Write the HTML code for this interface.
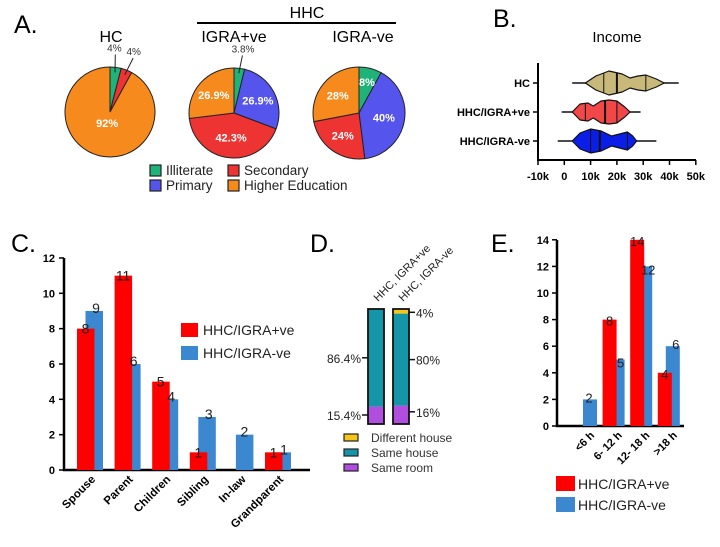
<!DOCTYPE html>
<html><head><meta charset="utf-8"><style>
html,body{margin:0;padding:0;background:#fff}
svg{display:block;font-family:"Liberation Sans",Arial,sans-serif}
</style></head><body>
<svg id="fig" width="720" height="547" viewBox="0 0 720 547">
<g id="pA">
<text x="14" y="33" font-size="25">A.</text>
<text x="307" y="18" font-size="16" text-anchor="middle">HHC</text>
<line x1="197" y1="23" x2="396" y2="23" stroke="#000" stroke-width="2"/>
<text x="111" y="42" font-size="16" text-anchor="middle">HC</text>
<text x="234" y="42" font-size="16" text-anchor="middle">IGRA+ve</text>
<text x="363" y="42" font-size="16" text-anchor="middle">IGRA-ve</text>
</g>
<g id="pB">
<text x="493" y="27" font-size="25">B.</text>
<text x="617" y="42" font-size="15" text-anchor="middle">Income</text>
</g>
<g id="pC">
<text x="11" y="252" font-size="25">C.</text>
</g>
<g id="pD">
<text x="310" y="252" font-size="25">D.</text>
</g>
<g id="pE">
<text x="491" y="252" font-size="25">E.</text>
</g>
</svg>
<script>
// ---- Panel A data ----
const eduCats = ["Illiterate","Primary","Secondary","Higher Education"];
const eduColors = ["#1fb37a","#5555ee","#ee3333","#f78a1c"];
const hcEdu = [4,0,4,92];
const igraPosEdu = [3.8,26.9,42.3,26.9];
const igraNegEdu = [8,40,24,28];
// ---- Panel B data (income, k) ----
const incomeGroups = ["HC","HHC/IGRA+ve","HHC/IGRA-ve"];
const incomeMin = [3,-1,-2.5];
const incomeMax = [43.5,29,35];
const incomeQ1 = [15,8,10];
const incomeMed = [20,15.5,13.5];
const incomeQ3 = [31,20,24];
const kdeX = [[8,12,17,22,25,28,31,35,38],[3,6,9,11,14,17,20,23,25],[3,6,10,14,18,21,24,26,27.5]];
const kdeW = [[0,7,12,9,5,7,8,4,0],[0,8,9,6,11,12,11,5,0],[0,8,12,10,5,7,9,5,0]];
const incomeTicks = [-10,0,10,20,30,40,50];
// ---- Panel C data ----
const relCats = ["Spouse","Parent","Children","Sibling","In-law","Grandparent"];
const relPos = [8,11,5,1,0,1];
const relNeg = [9,6,4,3,2,1];
const relTicks = [0,2,4,6,8,10,12];
// ---- Panel D data ----
const resCats = ["HHC, IGRA+ve","HHC, IGRA-ve"];
const sameRoom = [15.4,16];
const sameHouse = [86.4,80];
const diffHouse = [0,4];
// ---- Panel E data ----
const durCats = ["<6 h","6- 12 h","12- 18 h",">18 h"];
const durPos = [0,8,14,4];
const durNeg = [2,5,12,6];
const durTicks = [0,2,4,6,8,10,12,14];

const NS="http://www.w3.org/2000/svg";
function mk(parent,tag,attrs,text){const e=document.createElementNS(NS,tag);for(const k in attrs)e.setAttribute(k,attrs[k]);if(text!==undefined)e.textContent=text;parent.appendChild(e);return e;}
const RED="#ff0000", BLUE="#3b87d0";

// ===== Panel A =====
const gA=document.getElementById("pA");
function pie(cx,cy,r,vals,name,labels){
  const tot=vals.reduce((a,b)=>a+b,0);let a0=-Math.PI/2;
  const mids=[];
  vals.forEach((v,i)=>{
    if(v<=0){mids.push(null);return;}
    const a1=a0+v/tot*2*Math.PI;
    const large=(a1-a0)>Math.PI?1:0;
    const d=`M${cx},${cy}L${cx+r*Math.cos(a0)},${cy+r*Math.sin(a0)}A${r},${r} 0 ${large} 1 ${cx+r*Math.cos(a1)},${cy+r*Math.sin(a1)}Z`;
    const p=mk(gA,"path",{d:d,fill:eduColors[i],stroke:"#222","stroke-width":"1"});
    
    
    mids.push((a0+a1)/2);
    a0=a1;
  });
  vals.forEach((v,i)=>{
    const am=mids[i];const lab=labels[i];
    if(am===null||!lab)return;
    if(lab.out){
      const lx=cx+(r+14)*Math.cos(am)+lab.dx, ly=cy+(r+14)*Math.sin(am)-2;
      const ln=mk(gA,"line",{x1:cx+(r-5)*Math.cos(am),y1:cy+(r-5)*Math.sin(am),x2:lx-lab.dx*0.3,y2:ly+3,stroke:"#222","stroke-width":"1"});
      
      
      const t=mk(gA,"text",{x:lx,y:ly,"font-size":"10","text-anchor":"middle",fill:"#333"},lab.t);
      
      
    } else {
      const t=mk(gA,"text",{x:cx+r*lab.f*Math.cos(am),y:cy+r*lab.f*Math.sin(am)+4,"font-size":"11","font-weight":"bold","text-anchor":"middle",fill:"#fff"},lab.t);
      
      
    }
  });
}
pie(110,112,45,hcEdu,"hc-pie",[{out:1,t:hcEdu[0]+"%",dx:-3},null,{out:1,t:hcEdu[2]+"%",dx:2},{f:0.25,t:hcEdu[3]+"%"}]);
pie(234,113,45,igraPosEdu,"igra-pos-pie",[{out:1,t:igraPosEdu[0]+"%",dx:2},{f:0.6,t:igraPosEdu[1]+"%"},{f:0.55,t:igraPosEdu[2]+"%"},{f:0.6,t:igraPosEdu[3]+"%"}]);
pie(359,113,46,igraNegEdu,"igra-neg-pie",[{f:0.7,t:igraNegEdu[0]+"%"},{f:0.55,t:igraNegEdu[1]+"%"},{f:0.6,t:igraNegEdu[2]+"%"},{f:0.6,t:igraNegEdu[3]+"%"}]);
const legPos=[[150,170],[150,185],[228,170],[228,185]];
[0,1,2,3].forEach(i=>{
  const [x,y]=legPos[i];
  const s=mk(gA,"rect",{x:x,y:y-5,width:11,height:11,fill:eduColors[i],stroke:"#222","stroke-width":"1.2"});
  
  
  const t=mk(gA,"text",{x:x+16,y:y+5,"font-size":"13.5",fill:"#222"},eduCats[i]);
  
  
});

// ===== Panel B =====
const gB=document.getElementById("pB");
const bx=v=>564.3+v*2.63;
const rowY=[83,112,141];
const vColors=["#c8b97a","#f04848","#0a1ee8"];
const axB=mk(gB,"path",{d:"M538,63V160H696",fill:"none",stroke:"#000","stroke-width":"2"});


incomeTicks.forEach(t=>{
  const tk=mk(gB,"line",{x1:bx(t),x2:bx(t),y1:160,y2:165,stroke:"#000","stroke-width":"1.5"});
  
  
  const tl=mk(gB,"text",{x:bx(t),y:180,"font-size":"11","font-weight":"bold","text-anchor":"middle"},t===0?"0":t+"k");
  
  
});
incomeGroups.forEach((g,i)=>{
  const y=rowY[i];
  const tk=mk(gB,"line",{x1:533,x2:538,y1:y,y2:y,stroke:"#000","stroke-width":"1.5"});
  
  
  const lb=mk(gB,"text",{x:530,y:y+4,"font-size":"11","font-weight":"bold","text-anchor":"end"},g);
  
  
  const wh=mk(gB,"line",{x1:bx(incomeMin[i]),x2:bx(incomeMax[i]),y1:y,y2:y,stroke:"#111","stroke-width":"1.5"});
  
  
  const xs=kdeX[i],ws=kdeW[i];
  let d="M"+bx(xs[0])+","+y;
  for(let k=0;k<xs.length;k++)d+="L"+bx(xs[k])+","+(y-ws[k]);
  for(let k=xs.length-1;k>=0;k--)d+="L"+bx(xs[k])+","+(y+ws[k]);
  d+="Z";
  const vp=mk(gB,"path",{d:d,fill:vColors[i],stroke:"#111","stroke-width":"1.2","stroke-linejoin":"round"});
  
  
  function wAt(v){for(let k=0;k<xs.length-1;k++){if(v>=xs[k]&&v<=xs[k+1]){return ws[k]+(ws[k+1]-ws[k])*(v-xs[k])/(xs[k+1]-xs[k]);}}return 0;}
  [[incomeQ1[i],1],[incomeMed[i],2],[incomeQ3[i],1]].forEach(([v,sw])=>{
    const w=wAt(v);
    const q=mk(gB,"line",{x1:bx(v),x2:bx(v),y1:y-w,y2:y+w,stroke:"#111","stroke-width":sw});
    
    
  });
});

// ===== Panel C =====
const gC=document.getElementById("pC");
const cy=v=>470-v*17.67;
const cx0=i=>77+i*37.6;
mk(gC,"path",{d:"M64,258V470H310",fill:"none",stroke:"#000","stroke-width":"2.5",});
relTicks.forEach(t=>{
  const tk=mk(gC,"line",{x1:59,x2:64,y1:cy(t),y2:cy(t),stroke:"#000","stroke-width":"1.5"});
  
  
  const tl=mk(gC,"text",{x:55,y:cy(t)+4,"font-size":"11","font-weight":"bold","text-anchor":"end"},t);
  
  
});
relCats.forEach((c,i)=>{
  const x=cx0(i);
  if(relNeg[i]>0){
    const b=mk(gC,"rect",{x:x+8.5,y:cy(relNeg[i]),width:17.5,height:470-cy(relNeg[i]),fill:BLUE});
    
    
  }
  if(relPos[i]>0){
    const b=mk(gC,"rect",{x:x,y:cy(relPos[i]),width:17.5,height:470-cy(relPos[i]),fill:RED});
    
    
    const l=mk(gC,"text",{x:x+8.5,y:cy(relPos[i])+5,"font-size":"14","text-anchor":"middle",fill:"#222"},relPos[i]);
    
    
  }
  if(relNeg[i]>0){
    const l=mk(gC,"text",{x:x+(relPos[i]>0?19:17),y:cy(relNeg[i])+2,"font-size":"14","text-anchor":"middle",fill:"#222"},relNeg[i]);
    
    
  }
  const tl=mk(gC,"text",{transform:`translate(${x+19},${480}) rotate(-45)`,"font-size":"11.5","font-weight":"bold","text-anchor":"end"},c);
  
  
});
[[RED,"HHC/IGRA+ve",323],[BLUE,"HHC/IGRA-ve",346]].forEach(([col,t,y])=>{
  const s=mk(gC,"rect",{x:181,y:y,width:17,height:14,fill:col});
  
  
  const l=mk(gC,"text",{x:203,y:y+12,"font-size":"14",fill:"#222"},t);
  
  
});

// ===== Panel D =====
const gD=document.getElementById("pD");
const dTop=309,dBot=424,dH=dBot-dTop;
const dX=[368,393];
const sumD=i=>sameRoom[i]+sameHouse[i]+diffHouse[i];
resCats.forEach((c,i)=>{
  const tot=sumD(i);const x=dX[i];
  const hR=sameRoom[i]/tot*dH, hH=sameHouse[i]/tot*dH, hD=diffHouse[i]/tot*dH;
  const r1=mk(gD,"rect",{x:x,y:dBot-hR,width:16,height:hR,fill:"#b04ee0"});
  
  
  const r2=mk(gD,"rect",{x:x,y:dBot-hR-hH,width:16,height:hH,fill:"#1496a8"});
  
  
  if(hD>0){
    const r3=mk(gD,"rect",{x:x,y:dTop,width:16,height:hD,fill:"#f5c518"});
    
    
  }
  const o=mk(gD,"rect",{x:x,y:dTop,width:16,height:dH,fill:"none",stroke:"#111","stroke-width":"1.8"});
  
  
  const lb=mk(gD,"text",{transform:`translate(${x+10},${302}) rotate(-45)`,"font-size":"11",fill:"#222"},c);
  
  
  const items=[[sameRoom[i],dBot-hR/2-3],[sameHouse[i],dBot-hR-hH/2]];
  if(hD>0)items.push([diffHouse[i],dTop+hD/2+1]);
  items.forEach(([v,yy])=>{
    if(yy>dBot-12)yy=dBot-9;
    const tk=mk(gD,"line",{x1:i===0?x-6:x+16,x2:i===0?x:x+22,y1:yy,y2:yy,stroke:"#111","stroke-width":"1.5"});
    
    
    const t=mk(gD,"text",{x:i===0?x-7:x+23,y:yy+5,"font-size":"12","text-anchor":i===0?"end":"start",fill:"#222"},v+"%");
    
    
  });
});
[["#f5c518","Different house",438],["#1496a8","Same house",453],["#b04ee0","Same room",468]].forEach(([col,t,y])=>{
  const s=mk(gD,"rect",{x:344,y:y-4,width:14,height:7,fill:col,stroke:"#222","stroke-width":"1.2"});
  
  
  const l=mk(gD,"text",{x:371,y:y+4,"font-size":"12",fill:"#333"},t);
  
  
});

// ===== Panel E =====
const gE=document.getElementById("pE");
const ey=v=>426-v*13.3;
const ex0=i=>575+i*27.6;
mk(gE,"path",{d:"M557,240V426H684",fill:"none",stroke:"#000","stroke-width":"2.5",});
durTicks.forEach(t=>{
  const tk=mk(gE,"line",{x1:552,x2:557,y1:ey(t),y2:ey(t),stroke:"#000","stroke-width":"1.5"});
  
  
  const tl=mk(gE,"text",{x:549,y:ey(t)+4,"font-size":"11","font-weight":"bold","text-anchor":"end"},t);
  
  
});
durCats.forEach((c,i)=>{
  const x=ex0(i);
  if(durNeg[i]>0){
    const b=mk(gE,"rect",{x:x+8,y:ey(durNeg[i]),width:14,height:426-ey(durNeg[i]),fill:BLUE});
    
    
  }
  if(durPos[i]>0){
    const b=mk(gE,"rect",{x:x,y:ey(durPos[i]),width:14,height:426-ey(durPos[i]),fill:RED});
    
    
    const l=mk(gE,"text",{x:x+7,y:ey(durPos[i])+6,"font-size":"13","text-anchor":"middle",fill:"#222"},durPos[i]);
    
    
  }
  if(durNeg[i]>0){
    const l=mk(gE,"text",{x:x+(durPos[i]>0?18:14),y:ey(durNeg[i])+(durPos[i]>0&&durPos[i]>durNeg[i]?8:3),"font-size":"13","text-anchor":"middle",fill:"#222"},durNeg[i]);
    
    
  }
  const tl=mk(gE,"text",{transform:`translate(${x+20},${436}) rotate(-45)`,"font-size":"11","font-weight":"bold","text-anchor":"end"},c);
  
  
});
[[RED,"HHC/IGRA+ve",476],[BLUE,"HHC/IGRA-ve",497]].forEach(([col,t,y])=>{
  const s=mk(gE,"rect",{x:556,y:y,width:19,height:15,fill:col});
  
  
  const l=mk(gE,"text",{x:578,y:y+13,"font-size":"14",fill:"#222"},t);
  
  
});
</script>
</body></html>
